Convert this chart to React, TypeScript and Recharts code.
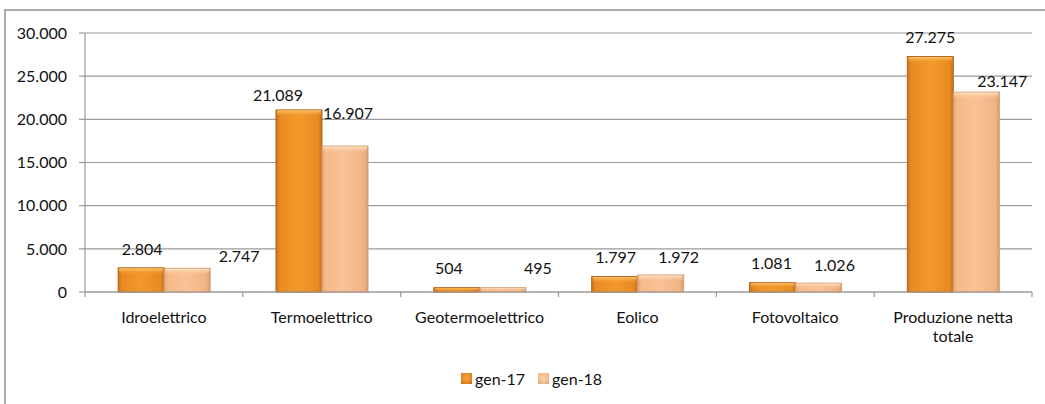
import React from 'react';
import { BarChart, Bar, XAxis, YAxis, CartesianGrid, Legend, LabelList, Text } from 'recharts';

// Produzione netta per fonte (GWh)
const categories = [
  'Idroelettrico',
  'Termoelettrico',
  'Geotermoelettrico',
  'Eolico',
  'Fotovoltaico',
  'Produzione netta totale',
];
const gen17 = [2804, 21089, 504, 1797, 1081, 27275];
const gen18 = [2747, 16907, 495, 1972, 1026, 23147];
const yTicks = [0, 5000, 10000, 15000, 20000, 25000, 30000];
const seriesNames = ['gen-17', 'gen-18'];

// Label nudges [dx, dy] from the top centre of each bar
const labelNudge17 = [[1, -18], [-21, -15], [-8, -19], [1, -19], [-1, -19], [0, -19]];
const labelNudge18 = [[52, -12], [3, -33], [35, -19], [18, -18], [16, -18], [26, -11]];

const data = categories.map((c, i) => ({ category: c, g17: gen17[i], g18: gen18[i] }));

const FONT = 'Lato, "Open Sans", sans-serif';
const FONT_SIZE = 16;
const GRID = '#9a9a9a';
const PLOT_LEFT = 85;
const PLOT_RIGHT = 1032;

const fmt = (v: number) => String(Math.round(v)).replace(/\B(?=(\d{3})+(?!\d))/g, '.');

const BevelBar = (props: any) => {
  const { x, y, width, height, fillId, topId, stroke } = props;
  if (!height || height <= 0) return null;
  const bevel = Math.min(6, height / 2);
  return (
    <g>
      <rect x={x} y={y} width={width} height={height} fill={`url(#${fillId})`} stroke={stroke} strokeWidth={1} />
      <rect x={x + 1} y={y + 0.5} width={Math.max(0, width - 2)} height={bevel} fill={`url(#${topId})`} />
    </g>
  );
};

const makeLabel = (nudges: number[][]) => (props: any) => {
  const { x, y, width, value, index } = props;
  const [dx, dy] = nudges[index] || [0, -18];
  return (
    <text
      x={x + width / 2 + dx}
      y={y + dy}
      dy="0.35em"
      textAnchor="middle"
      fill="#111"
      fontFamily={FONT}
      fontSize={FONT_SIZE}
    >
      {fmt(value)}
    </text>
  );
};

const CategoryTick = (props: any) => {
  const { x, y, payload, index } = props;
  const half = payload && payload.offset ? payload.offset : (PLOT_RIGHT - PLOT_LEFT) / categories.length / 2;
  const last = index === categories.length - 1;
  return (
    <g>
      <line x1={x - half} x2={x - half} y1={y} y2={y + 5} stroke={GRID} strokeWidth={1.2} />
      {last && <line x1={x + half} x2={x + half} y1={y} y2={y + 5} stroke={GRID} strokeWidth={1.2} />}
      <Text
        x={x}
        y={y + 19.5}
        width={half * 2 - 8}
        textAnchor="middle"
        verticalAnchor="start"
        lineHeight="1.2em"
        fill="#111"
        style={{ fontFamily: FONT, fontSize: FONT_SIZE }}
        fontFamily={FONT}
        fontSize={FONT_SIZE}
      >
        {payload.value}
      </Text>
    </g>
  );
};

const LegendContent = () => (
  <div style={{ display: 'flex', alignItems: 'center', fontFamily: FONT, fontSize: FONT_SIZE, color: '#111' }}>
    {seriesNames.map((name, i) => (
      <div key={name} style={{ display: 'flex', alignItems: 'center', marginRight: i === 0 ? 13 : 0 }}>
        <span
          style={{
            display: 'inline-block',
            width: 11,
            height: 11,
            marginRight: 3,
            background:
              i === 0
                ? 'radial-gradient(circle at 50% 45%, #f7a437 0%, #e58a24 60%, #b8691f 100%)'
                : 'radial-gradient(circle at 50% 45%, #fbd3ae 0%, #f2bd91 60%, #d3a07a 100%)',
          }}
        />
        <span>{name}</span>
      </div>
    ))}
  </div>
);

export default function App() {
  return (
    <div style={{ position: 'absolute', left: 0, top: 0, width: 1045, height: 404, overflow: 'hidden', background: '#fff' }}>
      <div
        style={{
          position: 'absolute',
          left: 4,
          top: 9,
          width: 1060,
          height: 420,
          borderLeft: '2px solid #ababab',
          borderTop: '2px solid #ababab',
        }}
      />
      <div style={{ position: 'absolute', left: 0, top: 0 }}>
        <BarChart
          width={1045}
          height={404}
          data={data}
          margin={{ top: 33, right: 1045 - PLOT_RIGHT, left: 0, bottom: 52 }}
          barCategoryGap="21%"
          barGap={0}
        >
          <defs>
            <linearGradient id="g17Body" x1="0" y1="0" x2="1" y2="0">
              <stop offset="0" stopColor="#c86f1f" />
              <stop offset="0.08" stopColor="#e98a22" />
              <stop offset="0.5" stopColor="#f39a2b" />
              <stop offset="0.92" stopColor="#e88921" />
              <stop offset="1" stopColor="#c46d1e" />
            </linearGradient>
            <linearGradient id="g17Top" x1="0" y1="0" x2="0" y2="1">
              <stop offset="0" stopColor="#fcc872" stopOpacity={0.95} />
              <stop offset="1" stopColor="#f39a2b" stopOpacity={0} />
            </linearGradient>
            <linearGradient id="g18Body" x1="0" y1="0" x2="1" y2="0">
              <stop offset="0" stopColor="#e2a477" />
              <stop offset="0.08" stopColor="#f6ba8a" />
              <stop offset="0.5" stopColor="#f9c296" />
              <stop offset="0.92" stopColor="#f1b283" />
              <stop offset="1" stopColor="#da9a6d" />
            </linearGradient>
            <linearGradient id="g18Top" x1="0" y1="0" x2="0" y2="1">
              <stop offset="0" stopColor="#ffe6c8" stopOpacity={0.95} />
              <stop offset="1" stopColor="#f9c296" stopOpacity={0} />
            </linearGradient>
          </defs>
          <CartesianGrid vertical={false} stroke={GRID} strokeWidth={1.2} />
          <XAxis
            dataKey="category"
            interval={0}
            height={60}
            tickSize={0}
            tickMargin={0}
            tickLine={false}
            axisLine={{ stroke: GRID, strokeWidth: 1.2 }}
            tick={<CategoryTick />}
          />
          <YAxis
            width={PLOT_LEFT}
            domain={[0, 30000]}
            ticks={yTicks}
            interval={0}
            tickFormatter={fmt}
            tickSize={6}
            tickMargin={12}
            axisLine={{ stroke: GRID, strokeWidth: 1.2 }}
            tickLine={{ stroke: GRID, strokeWidth: 1.2 }}
            tick={{ fill: '#111', fontSize: FONT_SIZE, fontFamily: FONT }}
          />
          <Legend
            verticalAlign="middle"
            align="center"
            layout="horizontal"
            wrapperStyle={{ top: 369, left: 461, width: 170, height: 20 }}
            content={<LegendContent />}
          />
          <Bar
            dataKey="g17"
            name={seriesNames[0]}
            isAnimationActive={false}
            shape={(p: any) => <BevelBar {...p} fillId="g17Body" topId="g17Top" stroke="#b5671f" />}
          >
            <LabelList dataKey="g17" content={makeLabel(labelNudge17)} />
          </Bar>
          <Bar
            dataKey="g18"
            name={seriesNames[1]}
            isAnimationActive={false}
            shape={(p: any) => <BevelBar {...p} fillId="g18Body" topId="g18Top" stroke="#d49e77" />}
          >
            <LabelList dataKey="g18" content={makeLabel(labelNudge18)} />
          </Bar>
        </BarChart>
      </div>
    </div>
  );
}
